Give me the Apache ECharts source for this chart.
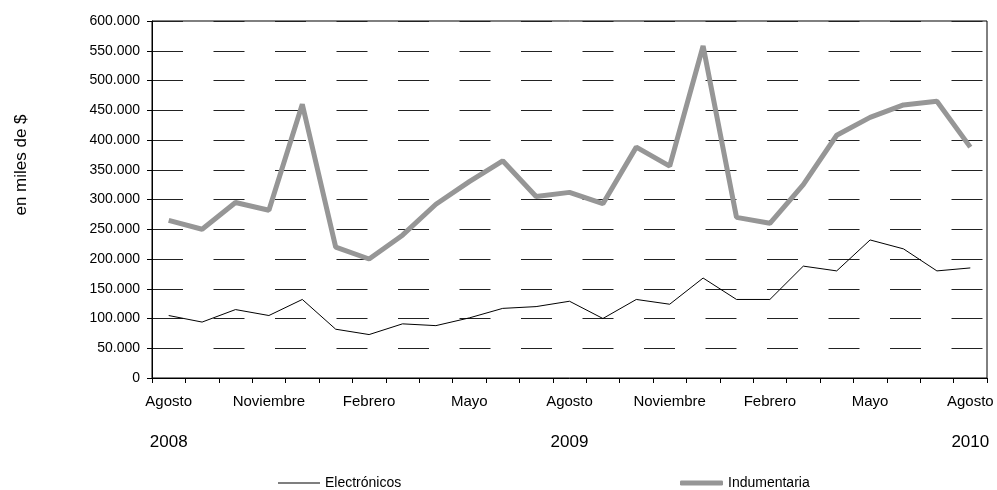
<!DOCTYPE html>
<html>
<head>
<meta charset="utf-8">
<script src="https://cdn.jsdelivr.net/npm/echarts@6/dist/echarts.min.js"></script>
<style>
    html, body { margin: 0; padding: 0; background: #fff; }
    #chart { width: 997px; height: 490px; }
</style>
</head>
<body>
<div id="chart"></div>
<script>
// meses agosto 2008 - agosto 2010
var months = [
    'Agosto', 'Septiembre', 'Octubre', 'Noviembre', 'Diciembre', 'Enero', 'Febrero',
    'Marzo', 'Abril', 'Mayo', 'Junio', 'Julio', 'Agosto', 'Septiembre', 'Octubre',
    'Noviembre', 'Diciembre', 'Enero', 'Febrero', 'Marzo', 'Abril', 'Mayo', 'Junio',
    'Julio', 'Agosto'
];
var years = [
    '2008', '', '', '', '', '', '', '', '', '', '', '', '2009',
    '', '', '', '', '', '', '', '', '', '', '', '2010'
];
var electronicos = [
    105000, 94000, 115000, 105000, 132000, 82000, 73000, 91000, 88000, 101000, 117000, 120000,
    129000, 100000, 132000, 124000, 168000, 132000, 132000, 188000, 180000, 232000, 217000,
    180000, 185000
];
var indumentaria = [
    265000, 250000, 295000, 282000, 460000, 220000, 200000, 240000, 292000, 330000, 365000, 305000,
    312000, 293000, 388000, 356000, 558000, 270000, 260000, 325000, 408000, 438000, 459000,
    465000, 388000
];

var font = 'Liberation Sans';

function miles(v) {
    return String(v).replace(/\B(?=(\d{3})+(?!\d))/g, '.');
}

var myChart = echarts.init(document.getElementById('chart'));
var option = {
    backgroundColor: '#fff',
    animation: false,
    textStyle: { fontFamily: font, color: '#000' },
    grid: {
        left: 152,
        right: 10,
        top: 21,
        bottom: 112,
        show: true,
        borderColor: '#000',
        borderWidth: 1,
        backgroundColor: 'transparent'
    },
    legend: [
        {
            data: [{ name: 'Electrónicos', icon: 'rect' }],
            left: 273,
            top: 471,
            itemWidth: 42,
            itemHeight: 1,
            textStyle: { fontFamily: font, fontSize: 14, color: '#000' }
        }, {
            data: [{ name: 'Indumentaria', icon: 'roundRect' }],
            left: 675,
            top: 471,
            itemWidth: 43,
            itemHeight: 5,
            textStyle: { fontFamily: font, fontSize: 14, color: '#000' }
        }
    ],
    graphic: [
        {
            type: 'text',
            x: 21,
            y: 165,
            rotation: Math.PI / 2,
            style: {
                text: 'en miles de $',
                font: '17px "Liberation Sans"',
                fill: '#000',
                align: 'center',
                verticalAlign: 'middle'
            }
        }
    ],
    xAxis: {
        type: 'category',
        data: months,
        boundaryGap: true,
        axisLine: { lineStyle: { color: '#000', width: 1 } },
        axisTick: { show: true, interval: 0, length: 5, lineStyle: { color: '#000' } },
        splitLine: { show: false },
        axisLabel: {
            interval: 2,
            margin: 14,
            color: '#000',
            formatter: function (value, idx) {
                var s = '{m|' + value + '}';
                if (years[idx]) {
                    s += '\n{y|' + years[idx] + '}';
                }
                return s;
            },
            rich: {
                m: { fontFamily: font, fontSize: 15, lineHeight: 20, color: '#000' },
                y: { fontFamily: font, fontSize: 17, lineHeight: 60, color: '#000' }
            }
        }
    },
    yAxis: {
        type: 'value',
        min: 0,
        max: 600000,
        interval: 50000,
        axisLine: { show: true, lineStyle: { color: '#000', width: 1 } },
        axisTick: { show: true, length: 5, lineStyle: { color: '#000' } },
        axisLabel: {
            margin: 12,
            fontFamily: font,
            fontSize: 14,
            color: '#000',
            formatter: miles
        },
        splitLine: {
            show: true,
            lineStyle: { color: '#222', width: 1, type: [31, 30.5] }
        }
    },
    series: [
        {
            name: 'Electrónicos',
            type: 'line',
            data: electronicos,
            symbol: 'none',
            lineStyle: { color: '#000', width: 1 },
            itemStyle: { color: '#000' },
            z: 3
        }, {
            name: 'Indumentaria',
            type: 'line',
            data: indumentaria,
            symbol: 'none',
            lineStyle: { color: '#969696', width: 5 },
            itemStyle: { color: '#969696' },
            z: 2
        }
    ]
};
myChart.setOption(option);

window.onresize = function () {
    myChart.resize();
};
</script>
</body>
</html>
